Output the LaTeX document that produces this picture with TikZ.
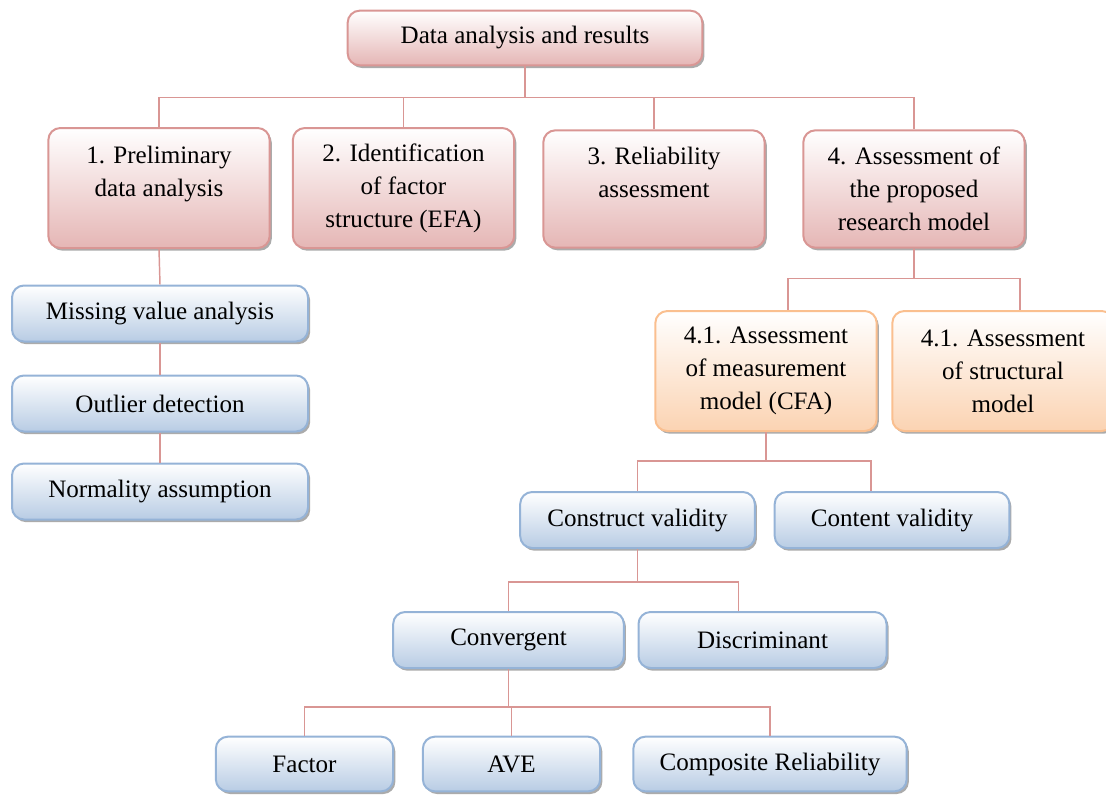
\documentclass[tikz,border=0pt]{standalone}
\usepackage{fontspec}
\setmainfont{Liberation Serif}
\usetikzlibrary{shadows}
\definecolor{pinkline}{RGB}{217,150,148}
\definecolor{pinkfill}{RGB}{229,182,181}
\definecolor{blueline}{RGB}{149,179,215}
\definecolor{bluefill}{RGB}{184,204,228}
\definecolor{orangeline}{RGB}{250,191,143}
\definecolor{orangefill}{RGB}{251,211,178}
\begin{document}
\begin{tikzpicture}[x=0.75pt, y=-0.75pt,
    box/.style={rounded corners=9pt, line width=1.5pt, align=center,
      font=\fontsize{18.8}{24.8}\selectfont, inner sep=2pt,
      drop shadow={shadow xshift=1.6pt, shadow yshift=-2pt, opacity=0.55, fill=black!60}},
    pinkbox/.style={box, draw=pinkline, top color=white, bottom color=pinkfill},
    bluebox/.style={box, draw=blueline, top color=white, bottom color=bluefill},
    orangebox/.style={box, draw=orangeline, top color=white, bottom color=orangefill},
    link/.style={draw=pinkline, line width=1.1pt}]
  \useasboundingbox (0,0) rectangle (1106,794);
  %--- Root
  \node[pinkbox, minimum width=266pt, minimum height=41pt] (top) at (525,38) {Data analysis and results};
  %--- Main steps
  \node[pinkbox, minimum width=166pt, minimum height=90pt] (p1) at (159,188) {1. Preliminary\\data analysis\\\mbox{}};
  \node[pinkbox, minimum width=166pt, minimum height=90pt] (p2) at (403.5,188) {2. Identification\\of factor\\structure (EFA)};
  \node[pinkbox, minimum width=166pt, minimum height=88pt] (p3) at (654,189) {3. Reliability\\assessment\\\mbox{}};
  \node[pinkbox, minimum width=166pt, minimum height=88pt] (p4) at (914,189) {4. Assessment of\\the proposed\\research model};
  %--- Preliminary analysis
  \node[bluebox, minimum width=222pt, minimum height=42pt] (m1) at (160,313.5) {Missing value analysis};
  \node[bluebox, minimum width=222pt, minimum height=42pt] (m2) at (160,403.5) {Outlier detection};
  \node[bluebox, minimum width=222pt, minimum height=42pt] (m3) at (160,491.5) {Normality assumption};
  %--- Research model
  \node[orangebox, minimum width=166pt, minimum height=90pt] (o1) at (766,371) {4.1. Assessment\\of measurement\\model (CFA)};
  \node[orangebox, minimum width=166pt, minimum height=90pt] (o2) at (1003,371) {4.1. Assessment\\of structural\\model};
  %--- Validity
  \node[bluebox, minimum width=176pt, minimum height=42pt] (cv) at (637.5,520) {Construct validity};
  \node[bluebox, minimum width=176pt, minimum height=42pt] (ct) at (892,520) {Content validity};
  \node[bluebox, minimum width=173pt, minimum height=42pt] (cg) at (508.5,640) {Convergent};
  \node[bluebox, minimum width=186pt, minimum height=42pt] (dc) at (762.5,640) {Discriminant};
  \node[bluebox, minimum width=133pt, minimum height=41pt] (f1) at (304.5,764) {Factor};
  \node[bluebox, minimum width=133pt, minimum height=41pt] (f2) at (511.5,764) {AVE};
  \node[bluebox, minimum width=205pt, minimum height=41pt] (f3) at (770,764) {Composite Reliability};
  %--- Connectors
  \draw[link] (top.south) -- ++(0,31) -| (p1.north);
  \draw[link] (top.south) -- ++(0,31) -| (p2.north);
  \draw[link] (top.south) -- ++(0,31) -| (p3.north);
  \draw[link] (top.south) -- ++(0,31) -| (p4.north);
  \draw[link] (p1.south) -- (m1.north);
  \draw[link] (m1.south) -- (m2.north);
  \draw[link] (m2.south) -- (m3.north);
  \draw[link] (p4.south) -- ++(0,30) -| ([xshift=16.5pt]o1.north);
  \draw[link] (p4.south) -- ++(0,30) -| ([xshift=12.75pt]o2.north);
  \draw[link] (o1.south) -- ++(0,29) -| (cv.north);
  \draw[link] (o1.south) -- ++(0,29) -| ([xshift=-15.75pt]ct.north);
  \draw[link] (cv.south) -- ++(0,33) -| (cg.north);
  \draw[link] (cv.south) -- ++(0,33) -| ([xshift=-18pt]dc.north);
  \draw[link] (cg.south) -- ++(0,38) -| (f1.north);
  \draw[link] (cg.south) -- ++(0,38) -| (f2.north);
  \draw[link] (cg.south) -- ++(0,38) -| (f3.north);
\end{tikzpicture}
\end{document}
